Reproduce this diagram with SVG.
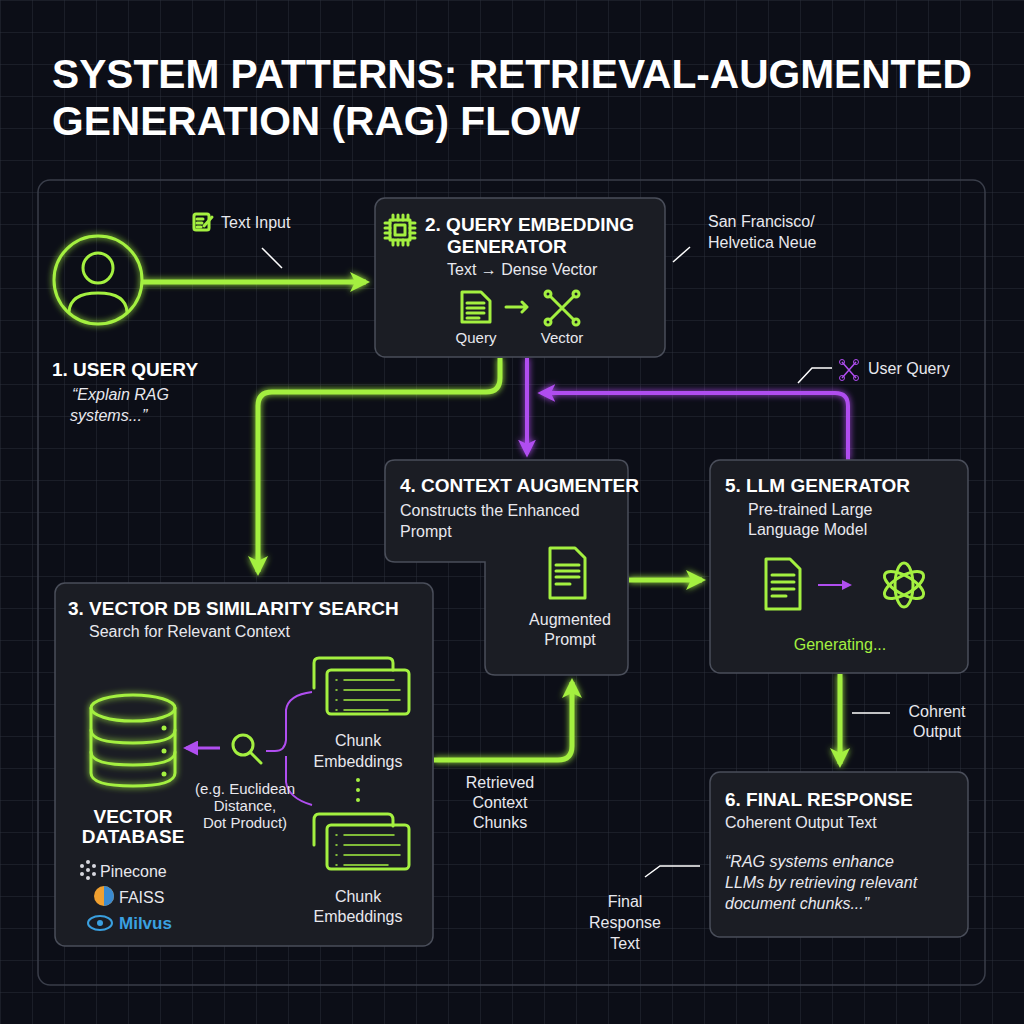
<svg xmlns="http://www.w3.org/2000/svg" width="1024" height="1024" viewBox="0 0 1024 1024">
<defs>
<pattern id="grid" width="32" height="32" patternUnits="userSpaceOnUse"><path d="M32 0H0V32" fill="none" stroke="#2a2e3a" stroke-width="1"/></pattern>
<filter id="glow" filterUnits="userSpaceOnUse" x="0" y="0" width="1024" height="1024"><feGaussianBlur stdDeviation="3" result="b"/><feMerge><feMergeNode in="b"/><feMergeNode in="SourceGraphic"/></feMerge></filter>
<marker id="ag" viewBox="0 0 10 10" refX="8" refY="5" markerWidth="4" markerHeight="4" orient="auto"><path d="M0 0L10 5L0 10L2.5 5Z" fill="#a4f040"/></marker>
<marker id="ap" viewBox="0 0 10 10" refX="8" refY="5" markerWidth="4.5" markerHeight="4.5" orient="auto"><path d="M0 0L10 5L0 10L2.5 5Z" fill="#b04ef0"/></marker>
<marker id="aps" viewBox="0 0 10 10" refX="8" refY="5" markerWidth="5" markerHeight="5" orient="auto"><path d="M0 0L10 5L0 10Z" fill="#b04ef0"/></marker>
</defs>
<style>
text{font-family:"Liberation Sans",Arial,sans-serif;fill:#ffffff}
.t{font-size:40.7px;font-weight:bold}
.h{font-size:19px;font-weight:bold}
.s{font-size:16px;fill:#e8e8ee}
.m{font-size:15px;fill:#e8e8ee}
.i{font-style:italic;font-size:16px;fill:#e8e8ee}
.box{fill:#1b1d24;stroke:#4a4e5a;stroke-width:1.5}
.g{fill:none;stroke:#a4f040;stroke-width:3;stroke-linecap:round;stroke-linejoin:round}
.gl{fill:none;stroke:#a4f040;stroke-width:5;stroke-linejoin:round}
.pl{fill:none;stroke:#b04ef0;stroke-width:4;stroke-linejoin:round}
.ld{stroke:#ffffff;stroke-width:1.5;fill:none}
</style>
<rect width="1024" height="1024" fill="#0c0e17"/>
<rect width="1024" height="1024" fill="url(#grid)"/>
<rect x="38" y="180" width="947" height="805" rx="12" fill="none" stroke="#3a3e4a" stroke-width="1.5"/>
<text class="t" x="52" y="88">SYSTEM PATTERNS: RETRIEVAL-AUGMENTED</text>
<text class="t" x="52" y="135">GENERATION (RAG) FLOW</text>

<g id="connectors">
<path class="gl" filter="url(#glow)" d="M143 282H366" marker-end="url(#ag)"/>
<path class="gl" filter="url(#glow)" d="M500 358V378Q500 392 486 392H272Q258 392 258 406V572" marker-end="url(#ag)"/>
<path class="pl" filter="url(#glow)" d="M527 358V454" marker-end="url(#ap)"/>
<path class="pl" filter="url(#glow)" d="M848 460V406Q848 393 835 393H541" marker-end="url(#ap)"/>
<path class="gl" filter="url(#glow)" d="M629 580H702" marker-end="url(#ag)"/>
<path class="gl" filter="url(#glow)" d="M840 674V764" marker-end="url(#ag)"/>
<path class="gl" filter="url(#glow)" d="M434 760H558Q572 760 572 746V682" marker-end="url(#ag)"/>
<path class="ld" d="M262 248L282 268"/>
<path class="ld" d="M673 262L690 247"/>
<path class="ld" d="M798 383L812 368H832"/>
<path class="ld" d="M852 713H890"/>
<path class="ld" d="M645 877L660 866H700"/>
</g>

<g id="text-input">
<rect x="194" y="214" width="15" height="16" rx="2" class="g" stroke-width="1.5"/>
<path d="M197 219h6M197 223h5M197 227h4M204 226l8-9" class="g" stroke-width="1.5"/>
<text class="s" x="221" y="228" font-size="17">Text Input</text>
</g>

<g id="user-query">
<circle cx="98" cy="280" r="44" class="g" filter="url(#glow)"/>
<circle cx="98" cy="268" r="15" class="g"/>
<path d="M69 312Q70 293 98 293Q126 293 127 312" class="g"/>
<text class="h" x="52" y="376">1. USER QUERY</text>
<text class="i" x="72" y="400">“Explain RAG</text>
<text class="i" x="70" y="421">systems...”</text>
</g>

<g id="query-embedding">
<rect class="box" x="375" y="198" width="290" height="159" rx="10"/>
<rect x="390" y="220" width="20" height="20" class="g" stroke-width="2"/>
<rect x="395" y="225" width="10" height="10" class="g" stroke-width="1.5"/>
<path d="M393 215v5M398 215v5M403 215v5M408 215v5M393 240v5M398 240v5M403 240v5M408 240v5M385 223h5M385 228h5M385 233h5M385 238h5M410 223h5M410 228h5M410 233h5M410 238h5" class="g" stroke-width="1.5"/>
<text class="h" x="425" y="231">2. QUERY EMBEDDING</text>
<text class="h" x="447" y="253">GENERATOR</text>
<text class="s" x="447" y="275">Text → Dense Vector</text>
<path d="M462 292H481L490 301V322H462Z" class="g" stroke-width="2"/>
<path d="M467 303h17M467 308h17M467 313h17M467 318h12" class="g" stroke-width="1.5"/>
<path d="M506 307H527M522 302l5 5-5 5" class="g" stroke-width="2"/>
<path d="M550 296L574 320M574 296L550 320" class="g" stroke-width="1.5"/>
<circle cx="548" cy="294" r="3" class="g" stroke-width="1.5"/><circle cx="576" cy="294" r="3" class="g" stroke-width="1.5"/><circle cx="548" cy="322" r="3" class="g" stroke-width="1.5"/><circle cx="576" cy="322" r="3" class="g" stroke-width="1.5"/>
<text class="m" x="476" y="343" text-anchor="middle" font-size="14">Query</text>
<text class="m" x="562" y="343" text-anchor="middle" font-size="14">Vector</text>
</g>

<g id="font-note">
<text class="s" x="708" y="227">San Francisco/</text>
<text class="s" x="708" y="248">Helvetica Neue</text>
</g>

<g id="user-query-label">
<path d="M842 362L856 378M856 362L842 378" stroke="#b04ef0" stroke-width="1.5"/>
<circle cx="842" cy="362" r="2.5" fill="none" stroke="#b04ef0"/><circle cx="856" cy="362" r="2.5" fill="none" stroke="#b04ef0"/><circle cx="842" cy="378" r="2.5" fill="none" stroke="#b04ef0"/><circle cx="856" cy="378" r="2.5" fill="none" stroke="#b04ef0"/>
<text class="s" x="868" y="374">User Query</text>
</g>

<g id="context-augmenter">
<path class="box" d="M395 460H618Q628 460 628 470V665Q628 675 618 675H495Q485 675 485 665V562H395Q385 562 385 552V470Q385 460 395 460Z"/>
<text class="h" x="400" y="492">4. CONTEXT AUGMENTER</text>
<text class="s" x="400" y="516">Constructs the Enhanced</text>
<text class="s" x="400" y="537">Prompt</text>
<path d="M550 548H575L585 558V598H550Z" class="g" stroke-width="2"/>
<path d="M556 565h23M556 571h23M556 577h23M556 584h14" class="g" stroke-width="1.5"/>
<text class="s" x="570" y="625" text-anchor="middle">Augmented</text>
<text class="s" x="570" y="645" text-anchor="middle">Prompt</text>
</g>

<g id="llm-generator">
<rect class="box" x="710" y="460" width="258" height="213" rx="10"/>
<text class="h" x="725" y="492">5. LLM GENERATOR</text>
<text class="s" x="748" y="515">Pre-trained Large</text>
<text class="s" x="748" y="535">Language Model</text>
<path d="M766 559H790L800 569V609H766Z" class="g" stroke-width="2"/>
<path d="M772 575h22M772 582h22M772 589h22M772 596h14" class="g" stroke-width="1.5"/>
<path d="M818 585H850" stroke="#b04ef0" stroke-width="2" marker-end="url(#aps)"/>
<g class="g" stroke-width="2.5" transform="translate(904 585)">
<ellipse rx="9" ry="22" transform="rotate(0)"/><ellipse rx="9" ry="22" transform="rotate(60)"/><ellipse rx="9" ry="22" transform="rotate(120)"/>
</g>
<text class="s" x="840" y="650" text-anchor="middle" style="fill:#a4f040">Generating...</text>
</g>

<g id="coherent-label">
<text class="s" x="937" y="717" text-anchor="middle">Cohrent</text>
<text class="s" x="937" y="737" text-anchor="middle">Output</text>
</g>

<g id="final-response">
<rect class="box" x="710" y="772" width="258" height="165" rx="10"/>
<text class="h" x="725" y="806">6. FINAL RESPONSE</text>
<text class="s" x="725" y="828">Coherent Output Text</text>
<text class="i" x="725" y="867">“RAG systems enhance</text>
<text class="i" x="725" y="888">LLMs by retrieving relevant</text>
<text class="i" x="725" y="909">document chunks...”</text>
</g>

<g id="final-label">
<text class="s" x="625" y="907" text-anchor="middle">Final</text>
<text class="s" x="625" y="928" text-anchor="middle">Response</text>
<text class="s" x="625" y="949" text-anchor="middle">Text</text>
</g>

<g id="retrieved-label">
<text class="s" x="500" y="788" text-anchor="middle">Retrieved</text>
<text class="s" x="500" y="808" text-anchor="middle">Context</text>
<text class="s" x="500" y="828" text-anchor="middle">Chunks</text>
</g>

<g id="vector-db">
<rect class="box" x="55" y="583" width="378" height="363" rx="10"/>
<text class="h" x="68" y="615">3. VECTOR DB SIMILARITY SEARCH</text>
<text class="s" x="89" y="637">Search for Relevant Context</text>
<g class="g" filter="url(#glow)">
<ellipse cx="133" cy="708" rx="42" ry="13"/>
<path d="M91 708V773Q91 786 133 786Q175 786 175 773V708"/>
<path d="M91 730Q91 743 133 743Q175 743 175 730M91 752Q91 765 133 765Q175 765 175 752"/>
</g>
<circle cx="164" cy="728" r="2.5" fill="#a4f040"/><circle cx="164" cy="751" r="2.5" fill="#a4f040"/><circle cx="164" cy="774" r="2.5" fill="#a4f040"/>
<path d="M220 748H186" stroke="#b04ef0" stroke-width="3" marker-end="url(#aps)"/>
<circle cx="243" cy="745" r="10" class="g"/>
<path d="M250 752L261 763" class="g"/>
<path d="M266 751H275Q285 751 286 740V710Q288 695 312 692M286 756V782Q288 798 312 805" fill="none" stroke="#b04ef0" stroke-width="2"/>
<g class="g" stroke-width="2">
<path d="M314 688V663Q314 658 319 658H388Q393 658 393 663V670"/>
<rect x="327" y="670" width="82" height="44" rx="4"/>
<path d="M336 680h1M344 680h50M336 690h1M344 690h56M336 700h1M344 700h56M336 710h1M344 710h44" stroke-width="1.5"/>
<path d="M314 845V820Q314 814 319 814H388Q393 814 393 820V826"/>
<rect x="327" y="825" width="82" height="44" rx="4"/>
<path d="M336 835h1M344 835h50M336 845h1M344 845h56M336 855h1M344 855h56M336 865h1M344 865h44" stroke-width="1.5"/>
</g>
<text class="s" x="358" y="746" text-anchor="middle">Chunk</text>
<text class="s" x="358" y="767" text-anchor="middle">Embeddings</text>
<circle cx="358" cy="780" r="2" fill="#a4f040"/><circle cx="358" cy="790" r="2" fill="#a4f040"/><circle cx="358" cy="800" r="2" fill="#a4f040"/>
<text class="s" x="358" y="902" text-anchor="middle">Chunk</text>
<text class="s" x="358" y="922" text-anchor="middle">Embeddings</text>
<text class="m" x="245" y="794" text-anchor="middle" font-size="14">(e.g. Euclidean</text>
<text class="m" x="245" y="811" text-anchor="middle" font-size="14">Distance,</text>
<text class="m" x="245" y="828" text-anchor="middle" font-size="14">Dot Product)</text>
<text class="h" x="133" y="823" text-anchor="middle" font-size="17">VECTOR</text>
<text class="h" x="133" y="843" text-anchor="middle" font-size="17">DATABASE</text>
<g fill="#d8d8e0"><circle cx="82" cy="866" r="2"/><circle cx="88" cy="862" r="2"/><circle cx="94" cy="866" r="2"/><circle cx="82" cy="874" r="2"/><circle cx="88" cy="878" r="2"/><circle cx="94" cy="874" r="2"/><circle cx="88" cy="870" r="2"/></g>
<text class="s" x="100" y="877" font-size="18">Pinecone</text>
<circle cx="104" cy="896" r="10" fill="#f0a030"/><path d="M104 886A10 10 0 0 1 104 906Z" fill="#3a8ad0"/>
<text class="s" x="119" y="903" font-size="18">FAISS</text>
<ellipse cx="100" cy="923" rx="12" ry="7" fill="none" stroke="#3aa0e0" stroke-width="2"/><circle cx="100" cy="923" r="3" fill="#3aa0e0"/>
<text x="119" y="929" font-size="17" font-weight="bold" style="fill:#3aa0e0">Milvus</text>
</g>
</svg>
